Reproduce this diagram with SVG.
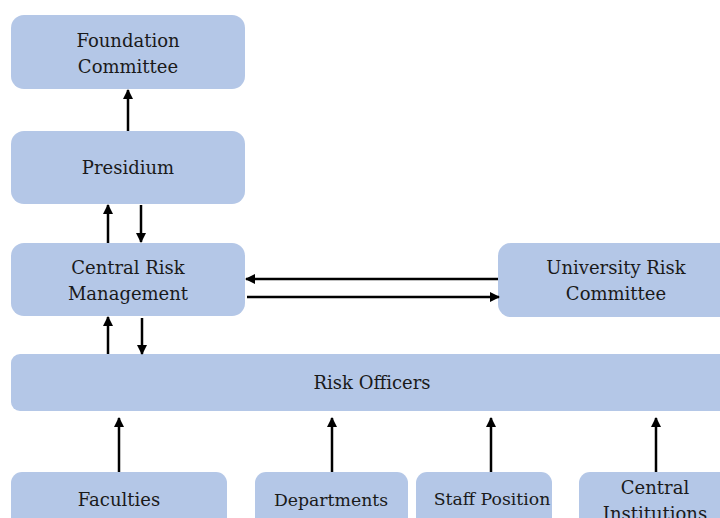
<svg xmlns="http://www.w3.org/2000/svg" width="720" height="518" viewBox="0 0 720 518">
<defs>
<style>
.box{fill:#b4c7e7;}
.t{font-family:"DejaVu Serif","Liberation Serif",serif;font-size:18px;fill:#1a1a1a;text-anchor:middle;}
.n{font-size:17.3px;}
.a{stroke:#000;stroke-width:2.5;fill:none;marker-end:url(#ah);}
</style>
<marker id="ah" viewBox="0 0 10 10" refX="9" refY="5" markerWidth="4.2" markerHeight="4" orient="auto" markerUnits="strokeWidth">
<path d="M0,0 L10,5 L0,10 z" fill="#000"/>
</marker>
</defs>
<rect width="720" height="518" fill="#fff"/>
<g id="foundation"><rect class="box" x="11" y="15" width="234" height="74" rx="13"/><text class="t" x="128" y="47">Foundation</text><text class="t" x="128" y="73">Committee</text></g>
<g id="presidium"><rect class="box" x="11" y="131" width="234" height="73" rx="13"/><text class="t" x="128" y="174">Presidium</text></g>
<g id="crm"><rect class="box" x="11" y="243" width="234" height="73" rx="13"/><text class="t" x="128" y="274">Central Risk</text><text class="t" x="128" y="300">Management</text></g>
<g id="urc"><rect class="box" x="498" y="243" width="240" height="74" rx="13"/><text class="t" x="616" y="274">University Risk</text><text class="t" x="616" y="300">Committee</text></g>
<g id="officers"><rect class="box" x="11" y="354" width="727" height="57" rx="9"/><text class="t" x="372" y="389">Risk Officers</text></g>
<g id="faculties"><rect class="box" x="11" y="472" width="216" height="70" rx="11"/><text class="t" x="119" y="506">Faculties</text></g>
<g id="departments"><rect class="box" x="255" y="472" width="153" height="70" rx="11"/><text class="t n" x="331" y="506">Departments</text></g>
<g id="staff"><rect class="box" x="416" y="472" width="136" height="70" rx="11"/><text class="t n" x="492" y="505">Staff Position</text></g>
<g id="central"><rect class="box" x="579" y="472" width="160" height="70" rx="11"/><text class="t" x="655" y="494">Central</text><text class="t" x="655" y="520">Institutions</text></g>
<g id="connectors">
<line class="a" x1="128" y1="131" x2="128" y2="90"/>
<line class="a" x1="108" y1="243" x2="108" y2="205"/>
<line class="a" x1="141" y1="205" x2="141" y2="242"/>
<line class="a" x1="498" y1="279" x2="246" y2="279"/>
<line class="a" x1="247" y1="297" x2="499" y2="297"/>
<line class="a" x1="108" y1="354" x2="108" y2="317"/>
<line class="a" x1="142" y1="318" x2="142" y2="354"/>
<line class="a" x1="119" y1="472" x2="119" y2="418"/>
<line class="a" x1="332" y1="472" x2="332" y2="418"/>
<line class="a" x1="491" y1="472" x2="491" y2="418"/>
<line class="a" x1="656" y1="472" x2="656" y2="418"/>
</g>
</svg>
